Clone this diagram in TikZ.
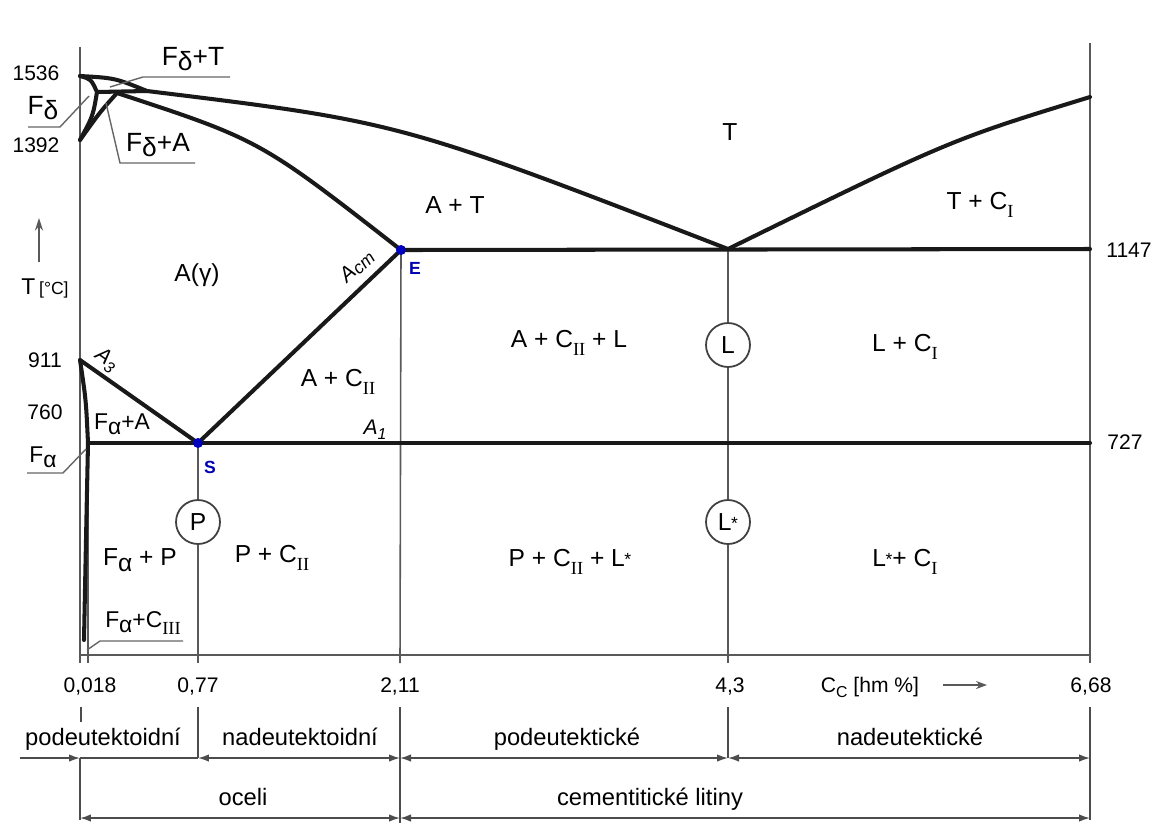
\documentclass[tikz,border=0pt]{standalone}
\usepackage{fontspec}
\setmainfont{Liberation Sans}
\newfontfamily\romfont{Liberation Serif}
\usetikzlibrary{arrows.meta}
\newcommand{\rsub}[1]{\raisebox{-0.3em}{\fontsize{10.5}{11}\selectfont\romfont #1}}
\newcommand{\lowg}[1]{\raisebox{-0.22em}{#1}}
\newcommand{\Lst}{L\kern-0.02em\raisebox{0.05em}{\fontsize{10}{10}\selectfont *}}
\begin{document}
\begin{tikzpicture}[x=0.02cm,y=-0.02cm,
  thk/.style={line width=2.3pt, draw=black!90, line cap=round, line join=round},
  thn/.style={line width=0.9pt, draw=black!65},
  leader/.style={line width=0.8pt, draw=black!60},
  lbl/.style={font=\fontsize{14}{16}\selectfont, inner sep=0pt},
  numl/.style={font=\fontsize{12}{14}\selectfont, inner sep=0pt},
  btm/.style={font=\fontsize{13.5}{15}\selectfont, inner sep=0pt, anchor=base},
  ring/.style={circle, draw=black!75, line width=1pt, minimum size=0.88cm, inner sep=0pt, font=\fontsize{14}{16}\selectfont},
  dimln/.style={line width=0.9pt, draw=black!70},
  arr/.style={-{Latex[length=2.2mm,width=1.5mm]}},
  arrb/.style={{Latex[length=2.2mm,width=1.5mm]}-{Latex[length=2.2mm,width=1.5mm]}},
  bdot/.style={circle, fill=blue!75!black, inner sep=0pt, minimum size=0.2cm},
  bluelbl/.style={font=\bfseries\fontsize{10}{12}\selectfont, text=blue!70!black, inner sep=0pt},
  itl/.style={font=\itshape\fontsize{12}{14}\selectfont, inner sep=0pt},
]
\useasboundingbox (0,0) rectangle (1160,823);
\fill[white] (0,0) rectangle (1160,823);

% key points
\coordinate (Atop) at (80,76);
\coordinate (H) at (97,92);
\coordinate (J) at (117,93);
\coordinate (B) at (147,91);
\coordinate (N) at (80,140);
\coordinate (G) at (80,360);
\coordinate (Pq) at (88,443);
\coordinate (Pb) at (84,640);
\coordinate (S) at (198,443);
\coordinate (E) at (401,250);
\coordinate (C) at (728,249);
\coordinate (Rl) at (1090,97);
\coordinate (R1147) at (1090,249);
\coordinate (R727) at (1090,443);
\coordinate (LT) at (80,47);
\coordinate (LB) at (80,663);
\coordinate (RT) at (1090,43);
\coordinate (RB) at (1090,663);
\coordinate (AxL) at (80,655);
\coordinate (AxR) at (1090,655);
\coordinate (t0b) at (88,663);
\coordinate (t077) at (198,663);
\coordinate (t211) at (400,663);
\coordinate (t43) at (728,663);

% frame
\draw[thn] (LT) -- (LB);
\draw[thn] (RT) -- (RB);
\draw[thn] (AxL) -- (AxR);
\draw[thn] (Pq) -- (t0b);

% circles
\node[ring] (Pc) at (198,522) {P};
\node[ring] (Lc) at (728,345) {L};
\node[ring] (Lsc) at (728,522) {\Lst};

% verticals
\draw[thn] (S) -- (Pc.north);
\draw[thn] (Pc.south) -- (t077);
\draw[thn] (E) -- (t211);
\draw[thn] (C) -- (Lc.north);
\draw[thn] (Lc.south) -- (Lsc.north);
\draw[thn] (Lsc.south) -- (t43);

% phase boundaries
\draw[thk] (Atop) .. controls (115,78) .. (B);
\draw[thk] (B) .. controls (400,122) .. (C);
\draw[thk] (C) .. controls (950,140) .. (Rl);
\draw[thk] (Atop) .. controls (91,79) .. (H);
\draw[thk] (H) .. controls (93,116) .. (N);
\draw[thk] (J) .. controls (100,112) .. (N);
\draw[thk] (H) -- (B);
\draw[thk] (J) .. controls (260,140) .. (E);
\draw[thk] (E) -- (R1147);
\draw[thk] (E) -- (S);
\draw[thk] (G) -- (S);
\draw[thk] (G) .. controls (86,400) .. (Pq);
\draw[thk] (Pq) -- (R727);
\draw[thk] (Pq) .. controls (86,540) .. (Pb);

\node[bdot] at (E) {};
\node[bdot] at (S) {};

% temperature labels
\node[numl] (l1536) at (36,73) {1536};
\node[numl] (l1392) at (36,145) {1392};
\node[numl] (l911) at (45,360) {911};
\node[numl] (l760) at (45,412) {760};
\node[numl] (l1147) at (1129,250) {1147};
\node[numl] (l727) at (1125,442) {727};
\node[inner sep=0pt, font=\fontsize{13}{14}\selectfont] (Tl) at (45,288) {T\,{\fontsize{10}{12}\selectfont[°C]}};
\coordinate (Ta) at (39,262);
\coordinate (Tb) at (39,218);
\draw[thn, -{Stealth[length=2.5mm,width=1.6mm]}] (Ta) -- (Tb);

% leader labels
\node[lbl, font=\fontsize{15}{16}\selectfont] (FdT) at (193,59) {F\lowg{δ}+T};
\draw[leader] (230,77) -- (143,77) -- (110,87);
\node[lbl, font=\fontsize{15}{16}\selectfont] (Fd) at (43,108) {F\lowg{δ}};
\draw[leader] (28,127) -- (60,127) -- (89,96);
\node[lbl, font=\fontsize{15}{16}\selectfont] (FdA) at (158,145) {F\lowg{δ}+A};
\draw[leader] (195,163) -- (120,163) -- (106,103);
\node[lbl, font=\fontsize{13}{14}\selectfont] (Fa) at (43,457) {F\lowg{α}};
\draw[leader] (27,473) -- (63,473) -- (86,449);
\node[lbl, font=\fontsize{13}{14}\selectfont] (FaC) at (143,623) {F\lowg{α}+C\rsub{III}};
\draw[leader] (183,641) -- (100,641) -- (87,650);

% region labels
\node[lbl] (Tr) at (730,132) {T};
\node[lbl] (AT) at (455,205) {A + T};
\node[lbl] (TC) at (980,205) {T + C\rsub{I}};
\node[lbl] (Ag) at (197,275) {A(γ)};
\node[itl, rotate=43] (Acm) at (357,266) {A\raisebox{-0.1em}{\fontsize{10}{10}\selectfont cm}};
\node[bluelbl] (El) at (415,268) {E};
\node[bluelbl] (Sl) at (210,467) {S};
\node[itl, rotate=-35] (A3) at (106,360) {A\raisebox{-0.25em}{\fontsize{9}{9}\selectfont 3}};
\node[lbl, font=\fontsize{13}{14}\selectfont] (FaA) at (122,424) {F\lowg{α}+A};
\node[lbl] (AC2) at (338,382) {A + C\rsub{II}};
\node[itl] (A1) at (375,430) {A\raisebox{-0.25em}{\fontsize{9}{9}\selectfont 1}};
\node[lbl] (AC2L) at (569,343) {A + C\rsub{II} + L};
\node[lbl] (LC1) at (905,347) {L + C\rsub{I}};
\node[lbl] (FaP) at (140,560) {F\lowg{α} + P};
\node[lbl] (PC2) at (272,558) {P + C\rsub{II}};
\node[lbl] (PC2L) at (570,562) {P + C\rsub{II} + \Lst};
\node[lbl] (LsC1) at (905,562) {\Lst + C\rsub{I}};

% composition labels
\node[numl, anchor=base] (c0) at (90,692) {0,018};
\node[numl, anchor=base] (c077) at (198,692) {0,77};
\node[numl, anchor=base] (c211) at (400,692) {2,11};
\node[numl, anchor=base] (c43) at (730,692) {4,3};
\node[numl, anchor=base] (cc) at (870,692) {C\raisebox{-0.25em}{\fontsize{9}{9}\selectfont C} [hm \%]};
\coordinate (ca1) at (943,685);
\coordinate (ca2) at (987,685);
\draw[thn, -{Stealth[length=2.2mm,width=1.6mm]}] (ca1) -- (ca2);
\node[numl, anchor=base] (c668) at (1091,692) {6,68};

% dimension lines
\coordinate (d0) at (20,758);
\coordinate (d1) at (80,758);
\coordinate (d2) at (198,758);
\coordinate (d3) at (400,758);
\coordinate (d4) at (728,758);
\coordinate (d5) at (1090,758);
\coordinate (e1) at (80,818);
\coordinate (e3) at (400,818);
\coordinate (e5) at (1090,818);
\draw[dimln] (81,707) -- (81,722);
\draw[dimln] (80,758) -- (80,820);
\draw[dimln] (198,707) -- (d2);
\draw[dimln] (400,707) -- (400,823);
\draw[dimln] (728,707) -- (d4);
\draw[dimln] (1090,707) -- (1090,820);
\draw[dimln, arr] (d0) -- (d1);
\draw[dimln] (d1) -- (d2);
\draw[dimln, arrb] (d2) -- (d3);
\draw[dimln, arrb] (d3) -- (d4);
\draw[dimln, arrb] (d4) -- (d5);
\draw[dimln, arrb] (e1) -- (e3);
\draw[dimln, arrb] (e3) -- (e5);

\node[btm] (r1) at (103,745) {podeutektoidní};
\node[btm] (r2) at (300,745) {nadeutektoidní};
\node[btm] (r3) at (567,745) {podeutektické};
\node[btm] (r4) at (910,745) {nadeutektické};
\node[btm] (r5) at (243,805) {oceli};
\node[btm] (r6) at (650,805) {cementitické litiny};
\end{tikzpicture}
\end{document}
